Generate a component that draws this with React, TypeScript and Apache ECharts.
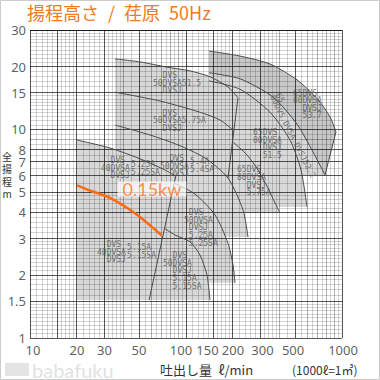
import React, { useEffect, useRef } from "react";
import * as echarts from "echarts";

// ---- texts ----
const TITLE = "揚程高さ\u2002/\u2002荏原\u200250Hz";
const Y_NAME = ["全", "揚", "程", "m"];
const X_NAME = "吐出し量\u2002ℓ/min";
const X_NOTE = "(1000ℓ=1㎥)";
const WATERMARK = "babafuku";
const KW_LABEL = "0.15kw";

// ---- tick labels ----
const X_TICKS = [10, 20, 30, 50, 100, 150, 200, 300, 500, 1000];
const Y_TICKS = [1, 1.5, 2, 3, 4, 5, 6, 7, 8, 10, 15, 20, 30];

// ---- log-paper grid (mantissas per decade) ----
const X_DECADES = [10, 100];
const Y_DECADES = [1, 10];
const X_MAJOR_M = [1, 1.5, 2, 3, 5];
const X_MID_M = [4, 6, 7, 8, 9];
const X_MINOR_M = [1.1, 1.2, 1.3, 1.4, 1.6, 1.7, 1.8, 1.9, 2.2, 2.4, 2.6, 2.8, 3.2, 3.4, 3.6, 3.8, 4.5, 5.5, 6.5, 7.5, 8.5, 9.5];
const Y_MAJOR_M = [1, 1.5, 2, 3, 4, 5, 6, 7, 8];
const Y_MID_M = [9];
const Y_MINOR_M = [1.05, 1.1, 1.15, 1.2, 1.25, 1.3, 1.35, 1.4, 1.45, 1.6, 1.7, 1.8, 1.9, 2.1, 2.2, 2.3, 2.4, 2.5, 2.6, 2.7, 2.8, 2.9, 3.2, 3.4, 3.6, 3.8, 4.2, 4.4, 4.6, 4.8, 5.5, 6.5, 7.5, 8.5, 9.5];

// ---- pump curves [flow l/min, head m] ----
const C40_025 = [[20, 8.9], [32.6, 8.15], [53, 7.14], [73.4, 6.39], [86, 5.98]];
const C40_015 = [[20, 5.4], [24.2, 5.1], [32.6, 4.7], [48.5, 3.9], [70, 3.1]];
const EDGE40 = [[58, 1.52], [86, 5.98]];
const C50_15 = [[35.1, 21.8], [50.7, 21.1], [75.5, 19.9], [106, 19.1], [142.5, 17.9], [185.8, 16.0], [215.4, 14.2]];
const C50_075 = [[35.1, 15.1], [68.1, 13.7], [122.9, 12.1], [165.2, 11.1], [200.1, 9.95]];
const C50_04 = [[35.1, 10.5], [58.8, 9.41], [88.9, 8.43], [132.4, 7.3], [185.8, 5.85], [232, 4.11], [249.7, 3.05]];
const C50_025 = [[83.8, 5.54], [114.2, 4.9], [153.5, 3.89], [185.8, 2.85], [200.1, 2.24], [206.1, 1.84]];
const C50_015 = [[72.3, 3.37], [85, 3.12], [106.1, 2.89], [122.9, 2.5], [136.3, 2.0], [142.5, 1.52]];
const EDGE50 = [[215.4, 14.2], [185.8, 5.85]];
const C65_37 = [[140.4, 23.8], [221.9, 22.5], [345.5, 20.6], [514.8, 17.3], [701.9, 13.9], [837.6, 11.5], [915, 9.73]];
const EDGE65 = [[915, 9.73], [778, 6.05]];
const C65_22 = [[140.4, 18.7], [221.9, 17.5], [361.2, 14.3], [514.8, 10.6], [651.9, 7.8], [778, 6.05]];
const C65_15 = [[140.4, 17.1], [221.9, 15.6], [345.5, 12.1], [464.2, 8.9], [546, 6.39], [596.5, 4.25]];
const C65_075 = [[200.1, 8.71], [246, 7.55], [289.4, 6.39], [335.4, 5.24], [372, 4.44], [400.6, 3.98]];

// ---- shaded range outlines (built from the curves) ----
const FILL40 = [...C40_025, [58, 1.52], [20, 1.52]];
const FILL50 = [...C50_15, [185.8, 5.85], [232, 4.11], [249.7, 3.05], [178, 3.05], [185.8, 2.85], [200.1, 2.24], [206.1, 1.84], [138.3, 1.84], [142.5, 1.52], [58, 1.52], [35.1, 7.5]];
const FILL65 = [...C65_37, [778, 6.05], [554, 6.05], [596.5, 4.25], [383.8, 4.25], [400.6, 3.98], [234, 3.98], [185.8, 5.85], [215.4, 14.2], [140.4, 17.9]];
const BAND65 = [...C65_37, ...C65_22.slice().reverse()];

// ---- model labels ----
const LABEL_TEXT = [
  "  DVS\n50DVSA51.5\n  DVSJ",
  "  DVS\n50DVSA5.75A\n  DVSJ",
  "  DVS\n50DVSA\n  DVSJ",
  "5.4A\n5.4SA",
  "  DVS\n40DVSA\n  DVSJ",
  "5.25A\n5.25SA",
  "  DVS\n40DVSA\n  DVSJ",
  "5.15A\n5.15SA",
  " DVS\n50DVSA\n DVSJ\n 5.25A\n 5.25SA",
  "  DVS\n50DVSA\n  DVSJ\n  5.15A\n  5.15SA",
  "65DVS\n80DVSA\n  DVSJ\n  5.75A",
  "65DVS\n80DVSA\n  DVSJ\n  51.5",
  "65DVS\n80DVSA\n  DVSJ\n  53.7",
];
const LABEL_AT = [[61.4, 18.9], [61.4, 12.5], [68.1, 7.55], [106.1, 7.3], [28.5, 7.38], [44.4, 7.06], [26.9, 2.92], [41.9, 2.82], [97.1, 4.16], [71.2, 2.59], [212.3, 6.68], [268.9, 10.06], [485, 15.6]];
const ROT_TEXT = ["65", "80DVS.", "DVSA.", "DVSJ52.2"];
const ROT_AT = [[400.6, 14.16], [391.6, 12.57], [467.7, 9.68], [576.8, 7.12]];
const KW_AT = [60.5, 5.18];
const X_TICK_SHIFT = [3, 0, 0, 0, -5, -6, 0, 2, -2, 1];

const CJK = "'Noto Sans CJK JP', sans-serif";
const MONO = "'DejaVu Sans Mono', monospace";
const LATIN = "'Noto Sans', sans-serif";

export default function App() {
  const ref = useRef<HTMLDivElement>(null);
  useEffect(() => {
    const chart = echarts.init(ref.current!, undefined, { renderer: "svg" });

    type GL = { v: number; dir: 0 | 1; w: number };
    const gl: GL[] = [];
    const addX = (ms: number[], w: number) => X_DECADES.forEach((d) => ms.forEach((m) => gl.push({ v: m * d, dir: 0, w })));
    const addY = (ms: number[], w: number) => Y_DECADES.forEach((d) => ms.forEach((m) => { if (m * d <= 30) gl.push({ v: m * d, dir: 1, w }); }));
    addX(X_MINOR_M, 0); addY(Y_MINOR_M, 0);
    addX(X_MID_M, 1); addY(Y_MID_M, 1);
    addX(X_MAJOR_M, 2); addY(Y_MAJOR_M, 2);
    gl.push({ v: 1000, dir: 0, w: 2 });
    gl.push({ v: 30, dir: 1, w: 2 });
    const strokes = ["rgba(0,0,0,0.17)", "rgba(0,0,0,0.3)", "rgba(0,0,0,0.66)"];
    const crisp = (n: number) => Math.round(n - 0.5) + 0.5;

    const fills = [
      { pts: FILL40, color: "#d8d8d8" },
      { pts: FILL50, color: "#d8d8d8" },
      { pts: FILL65, color: "#d8d8d8" },
      { pts: BAND65, color: "#c8c8c8" },
    ];

    const curve = (data: number[][], smooth: number | boolean) => ({
      type: "line",
      data,
      symbol: "none",
      smooth,
      silent: true,
      z: 3,
      lineStyle: { color: "#4a4a4a", width: 1 },
    });

    const yNameTexts = Y_NAME.map((ch, i) => ({
      type: "text", x: 7, y: 150 + i * 12.5, silent: true,
      style: { text: ch, fontSize: 10, lineHeight: 12, fontFamily: CJK, fill: "#333", align: "center", verticalAlign: "top" },
    }));

    const option: any = {
      animation: false,
      backgroundColor: "#ffffff",
      title: {
        text: TITLE,
        left: 27,
        top: 3,
        padding: 0,
        textStyle: { color: "#f27a22", fontSize: 18, fontWeight: "normal", fontFamily: CJK },
      },
      grid: { left: 30, top: 30, width: 312, height: 308 },
      xAxis: {
        type: "log", logBase: 10, min: 10, max: 1000,
        axisLine: { show: false }, axisTick: { show: false }, axisLabel: { show: false }, splitLine: { show: false },
      },
      yAxis: {
        type: "log", logBase: 10, min: 1, max: 30,
        axisLine: { show: false }, axisTick: { show: false }, axisLabel: { show: false }, splitLine: { show: false },
      },
      graphic: [
        ...yNameTexts,
        { type: "text", x: 160, y: 361, silent: true, style: { text: X_NAME, fontSize: 13, lineHeight: 16, fontFamily: CJK, fill: "#333" } },
        { type: "text", x: 292, y: 362, silent: true, style: { text: X_NOTE, fontSize: 12, lineHeight: 15, fontFamily: CJK, fill: "#333" } },
        { type: "rect", silent: true, shape: { x: 5, y: 363, width: 24, height: 13 }, style: { fill: "#e4e4e4" } },
        { type: "text", x: 32, y: 378, silent: true, style: { text: WATERMARK, fontSize: 20, lineHeight: 17, verticalAlign: "bottom", fontFamily: "Lato, sans-serif", fill: "#e2e2e2" } },
        { type: "rect", silent: true, z: 100, shape: { x: 0.5, y: 0.5, width: 379, height: 379 }, style: { fill: "none", stroke: "#cccccc", lineWidth: 1 } },
      ],
      series: [
        {
          type: "custom",
          silent: true,
          z: 1,
          data: fills.map((f) => f.pts[0]),
          renderItem: (params: any, api: any) => {
            const f = fills[params.dataIndex];
            return { type: "polygon", shape: { points: f.pts.map((p) => api.coord(p)) }, style: { fill: f.color } };
          },
        },
        {
          type: "custom",
          silent: true,
          z: 2,
          data: gl.map((g) => (g.dir === 0 ? [g.v, 1] : [10, g.v])),
          renderItem: (params: any, api: any) => {
            const g = gl[params.dataIndex];
            let p1, p2;
            if (g.dir === 0) { p1 = api.coord([g.v, 1]); p2 = api.coord([g.v, 30]); const x = crisp(p1[0]); p1 = [x, p1[1]]; p2 = [x, p2[1]]; }
            else { p1 = api.coord([10, g.v]); p2 = api.coord([1000, g.v]); const y = crisp(p1[1]); p1 = [p1[0], y]; p2 = [p2[0], y]; }
            return { type: "line", shape: { x1: p1[0], y1: p1[1], x2: p2[0], y2: p2[1] }, style: { stroke: strokes[g.w], lineWidth: 1 } };
          },
        },
        curve(C40_025, 0.25),
        curve(C50_15, 0.25),
        curve(C50_075, 0.25),
        curve(C50_04, 0.25),
        curve(C50_025, 0.25),
        curve(C50_015, 0.25),
        curve(C65_37, 0.25),
        curve(C65_22, 0.25),
        curve(C65_15, 0.25),
        curve(C65_075, 0.25),
        curve(EDGE40, false),
        curve(EDGE50, false),
        curve(EDGE65, false),
        {
          type: "line",
          data: C40_015,
          symbol: "none",
          smooth: 0.25,
          silent: true,
          z: 5,
          lineStyle: { color: "#ff6a10", width: 2.5 },
        },
        {
          type: "scatter", silent: true, clip: false, symbolSize: 0, z: 6,
          itemStyle: { color: "transparent" },
          data: LABEL_AT.map((p, i) => ({ value: p, label: { formatter: LABEL_TEXT[i] } })),
          label: { show: true, position: [0, 0], align: "left", verticalAlign: "top", fontFamily: MONO, fontSize: 8, lineHeight: 7.6, color: "#555" },
        },
        {
          type: "scatter", silent: true, clip: false, symbolSize: 0, z: 6,
          itemStyle: { color: "transparent" },
          data: ROT_AT.map((p, i) => ({ value: p, label: { formatter: ROT_TEXT[i] } })),
          label: { show: true, position: "inside", rotate: -63, fontFamily: MONO, fontSize: 8, color: "#555" },
        },
        {
          type: "scatter", silent: true, clip: false, symbolSize: 0, z: 7,
          itemStyle: { color: "transparent" },
          data: [KW_AT],
          label: {
            show: true, position: "inside", formatter: KW_LABEL, color: "#ff7418", fontSize: 18,
            fontFamily: "Lato, sans-serif", backgroundColor: "rgba(255,255,255,0.88)", padding: [0, 5, 0, 5], lineHeight: 15,
          },
        },
        {
          type: "scatter", silent: true, clip: false, symbolSize: 0, z: 6,
          itemStyle: { color: "transparent" },
          data: X_TICKS.map((v, i) => ({ value: [v, 1], label: { offset: [X_TICK_SHIFT[i], 0] } })),
          label: { show: true, position: "bottom", distance: 5, formatter: (p: any) => String(p.value[0]), color: "#333", fontSize: 13, lineHeight: 14, fontFamily: LATIN },
        },
        {
          type: "scatter", silent: true, clip: false, symbolSize: 0, z: 6,
          itemStyle: { color: "transparent" },
          data: Y_TICKS.map((v) => [10, v]),
          label: { show: true, position: "left", distance: 4, formatter: (p: any) => String(p.value[1]), color: "#333", fontSize: 13, lineHeight: 12, fontFamily: LATIN },
        },
      ],
    };
    chart.setOption(option);
    return () => chart.dispose();
  }, []);
  return <div ref={ref} style={{ position: "fixed", left: 0, top: 0, width: 380, height: 380, background: "#fff" }} />;
}
